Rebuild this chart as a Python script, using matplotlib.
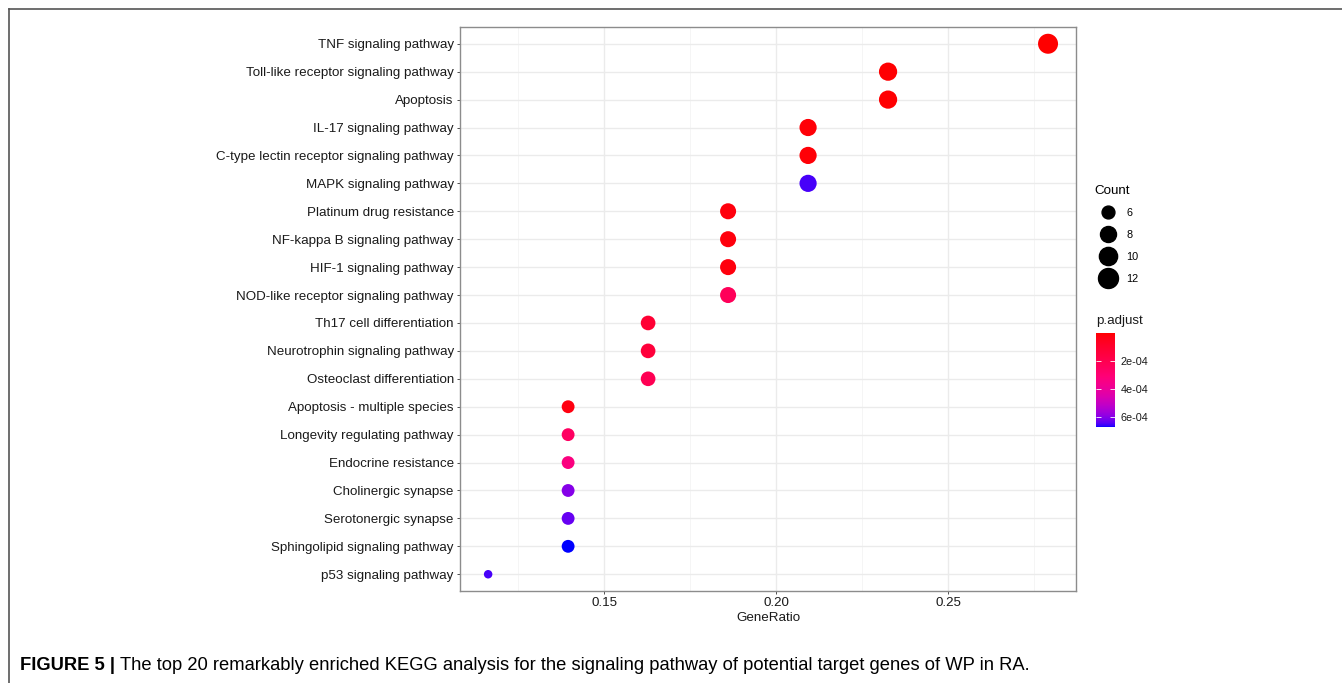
import matplotlib
matplotlib.use("Agg")
import matplotlib.pyplot as plt
import numpy as np
from matplotlib.colors import ListedColormap, Normalize
from matplotlib.cm import ScalarMappable
from matplotlib.lines import Line2D

plt.rcParams["font.family"] = ["Liberation Sans", "DejaVu Sans"]

# -------- data (top to bottom) --------
pathways = [
    "TNF signaling pathway",
    "Toll-like receptor signaling pathway",
    "Apoptosis",
    "IL-17 signaling pathway",
    "C-type lectin receptor signaling pathway",
    "MAPK signaling pathway",
    "Platinum drug resistance",
    "NF-kappa B signaling pathway",
    "HIF-1 signaling pathway",
    "NOD-like receptor signaling pathway",
    "Th17 cell differentiation",
    "Neurotrophin signaling pathway",
    "Osteoclast differentiation",
    "Apoptosis - multiple species",
    "Longevity regulating pathway",
    "Endocrine resistance",
    "Cholinergic synapse",
    "Serotonergic synapse",
    "Sphingolipid signaling pathway",
    "p53 signaling pathway",
]
counts = [12, 10, 10, 9, 9, 9, 8, 8, 8, 8, 7, 7, 7, 6, 6, 6, 6, 6, 6, 5]
total_genes = 43
p_adjust = [2.0e-7, 3.1e-6, 3.1e-6, 1.2e-5, 1.2e-5, 6.5e-4, 2.1e-5, 2.1e-5,
            2.1e-5, 2.3e-4, 1.2e-4, 1.4e-4, 2.1e-4, 2.5e-5, 2.5e-4, 3.3e-4,
            6.0e-4, 6.3e-4, 6.7e-4, 6.5e-4]
legend_counts = [6, 8, 10, 12]

gene_ratio = np.array(counts) / total_genes


# -------- red -> blue ramp interpolated in polar CIELAB (HCL) --------
def srgb_to_lab(rgb):
    c = np.asarray(rgb, float)
    lin = np.where(c <= 0.04045, c / 12.92, ((c + 0.055) / 1.055) ** 2.4)
    m = np.array([[0.4124, 0.3576, 0.1805],
                  [0.2126, 0.7152, 0.0722],
                  [0.0193, 0.1192, 0.9505]])
    xyz = m @ lin / np.array([0.95047, 1.0, 1.08883])
    f = np.where(xyz > 0.008856, np.cbrt(xyz), 7.787 * xyz + 16 / 116)
    return np.array([116 * f[1] - 16, 500 * (f[0] - f[1]), 200 * (f[1] - f[2])])


def lab_to_srgb(lab):
    L, a, b = lab
    fy = (L + 16) / 116
    fx = fy + a / 500
    fz = fy - b / 200
    f = np.array([fx, fy, fz])
    xyz = np.where(f ** 3 > 0.008856, f ** 3, (f - 16 / 116) / 7.787)
    xyz = xyz * np.array([0.95047, 1.0, 1.08883])
    m = np.array([[3.2406, -1.5372, -0.4986],
                  [-0.9689, 1.8758, 0.0415],
                  [0.0557, -0.2040, 1.0570]])
    lin = np.clip(m @ xyz, 0, 1)
    c = np.where(lin <= 0.0031308, 12.92 * lin, 1.055 * lin ** (1 / 2.4) - 0.055)
    return np.clip(c, 0, 1)


def to_lch(lab):
    return np.array([lab[0], np.hypot(lab[1], lab[2]), np.degrees(np.arctan2(lab[2], lab[1]))])


lch_lo = to_lch(srgb_to_lab([1, 0, 0]))
lch_hi = to_lch(srgb_to_lab([0, 0, 1]))
dh = (lch_hi[2] - lch_lo[2] + 180) % 360 - 180
ramp = []
for t in np.linspace(0, 1, 256):
    L = lch_lo[0] + t * (lch_hi[0] - lch_lo[0])
    C = lch_lo[1] + t * (lch_hi[1] - lch_lo[1])
    H = np.radians(lch_lo[2] + t * dh)
    ramp.append(lab_to_srgb([L, C * np.cos(H), C * np.sin(H)]))
cmap = ListedColormap(ramp)
norm = Normalize(vmin=min(p_adjust), vmax=max(p_adjust))


# ggplot-like area scale for point size -> diameter in points
def count_to_diam(c):
    c = np.asarray(c, float)
    size = 1 + 5 * np.sqrt((c - min(counts)) / (max(counts) - min(counts)))
    return (6.2 + 2.3 * size) * 0.72


# -------- figure --------
fig = plt.figure(figsize=(13.42, 6.83), dpi=100)

# outer frame (top and left edges)
fig.add_artist(Line2D([9 / 1342, 1], [1 - 9 / 683, 1 - 9 / 683], color="#555555", lw=1.2))
fig.add_artist(Line2D([9 / 1342, 9 / 1342], [0, 1 - 9 / 683], color="#555555", lw=1.2))

ax = fig.add_axes([460 / 1342, 1 - 591 / 683, 616 / 1342, 564 / 683])
n = len(pathways)
ypos = np.arange(n, 0, -1)
ax.scatter(gene_ratio, ypos, s=count_to_diam(counts) ** 2, c=p_adjust,
           cmap=cmap, norm=norm, linewidths=0, zorder=3)

ax.set_xlim(0.1081, 0.2872)
ax.set_ylim(0.4, n + 0.6)
ax.set_yticks(ypos)
ax.set_yticklabels(pathways)
ax.set_xticks([0.15, 0.20, 0.25])
ax.set_xticklabels(["0.15", "0.20", "0.25"])
ax.set_xticks([0.125, 0.175, 0.225, 0.275], minor=True)
ax.grid(True, which="major", color="#ebebeb", lw=1.0, zorder=0)
ax.grid(True, which="minor", axis="x", color="#f4f4f4", lw=0.6, zorder=0)
ax.set_axisbelow(True)
ax.tick_params(axis="both", which="major", labelsize=9.6, color="#333333",
               length=2.5, width=0.6, labelcolor="#1a1a1a", pad=2)
ax.tick_params(axis="x", which="minor", length=0)
for sp in ax.spines.values():
    sp.set_color("#8c8c8c")
    sp.set_linewidth(1.0)
ax.set_xlabel("GeneRatio", fontsize=9.6, color="#1a1a1a", labelpad=2)

# -------- Count legend --------
handles = [Line2D([], [], marker="o", ls="", color="black",
                  markersize=float(count_to_diam(c))) for c in legend_counts]
leg = fig.legend(handles, [str(c) for c in legend_counts], title="Count",
                 loc="upper left", bbox_to_anchor=(1097 / 1342, 1 - 185 / 683),
                 frameon=False, fontsize=7.8, title_fontsize=9.6,
                 labelspacing=1.1, handletextpad=0.6, borderaxespad=0,
                 handlelength=2.1, borderpad=0)
leg._legend_box.align = "left"
leg._legend_box.sep = 8
leg.get_title().set_position((-3, 0))

# -------- p.adjust colorbar --------
fig.text(1096 / 1342, 1 - 321 / 683, "p.adjust", fontsize=9.6, color="#1a1a1a",
         va="center", ha="left")
cax = fig.add_axes([1096 / 1342, 1 - 427 / 683, 19 / 1342, 94 / 683])
cb = fig.colorbar(ScalarMappable(norm=norm, cmap=cmap), cax=cax)
cb.outline.set_visible(False)
cax.invert_yaxis()
cb.set_ticks([2e-4, 4e-4, 6e-4])
cb.set_ticklabels(["2e-04", "4e-04", "6e-04"])
cax.yaxis.set_ticks_position("both")
cax.tick_params(direction="in", color="white", length=3.5, width=0.6,
                labelsize=7.8, pad=4, labelcolor="#1a1a1a",
                left=True, right=True, labelleft=False, labelright=True)

# -------- caption --------
cap_y = 1 - 665 / 683
t1 = fig.text(20 / 1342, cap_y, "FIGURE 5 |", fontsize=13.2,
              fontweight="bold", va="center", ha="left")
fig.canvas.draw()
bb = t1.get_window_extent()
fig.text(bb.x1 + 5, bb.y0 + bb.height / 2,
         "The top 20 remarkably enriched KEGG analysis for the signaling pathway "
         "of potential target genes of WP in RA.",
         fontsize=13.2, va="center", ha="left", transform=None)

fig.savefig("out.png", dpi=100)
